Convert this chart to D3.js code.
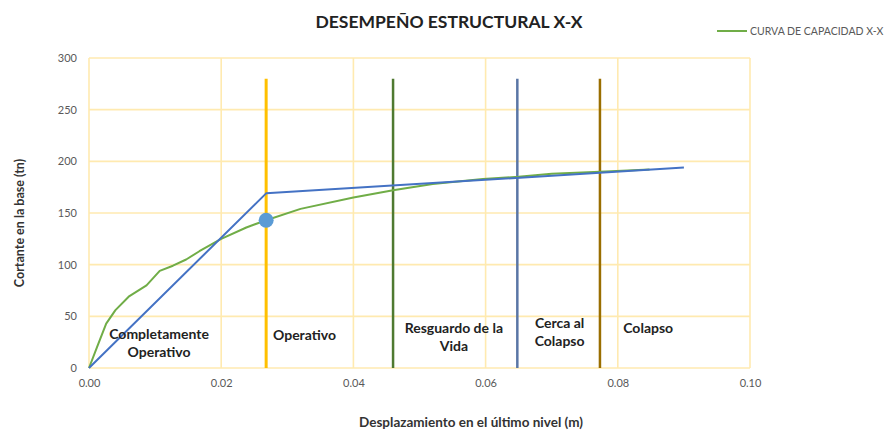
<!DOCTYPE html>
<html>
<head>
<meta charset="utf-8">
<script src="https://cdn.jsdelivr.net/npm/d3@7"></script>
<style>
  html, body { margin: 0; padding: 0; background: #fff; }
  svg { display: block; font-family: Lato, "Open Sans", sans-serif; }
</style>
</head>
<body>
<svg id="chart" width="895" height="430"></svg>
<script>
// Capacity curve (displacement m, base shear tn)
const capDisp  = [0, 0.0012, 0.0026, 0.004, 0.006, 0.0087, 0.0097, 0.0107, 0.0127, 0.0147, 0.0167, 0.020, 0.0238, 0.0268, 0.032, 0.040, 0.046, 0.052, 0.0596, 0.065, 0.070, 0.0773, 0.0848];
const capShear = [0, 20, 43, 56, 69, 80, 87, 94, 99, 105, 113, 125, 136, 143, 154, 165, 172, 178, 183, 185, 188, 190, 192];

// Bilinear idealisation
const biDisp  = [0, 0.0268, 0.090];
const biShear = [0, 169, 194];

// Performance point
const perfDisp = 0.0268, perfShear = 143;

// Performance level limits
const limitNames = ["Operativo", "Resguardo", "Cerca", "Colapso"];
const limitDisp  = [0.0268, 0.0460, 0.0648, 0.0773];
const limitTop   = 280;
const limitColors = ["#FFC000", "#4F7A31", "#5A76A6", "#9A6E00"];
const limitWidths = [3, 2.5, 2.5, 2.5];

// Performance zone labels (lines of text, anchor displacement, shear)
const zoneLabels = [
  { lines: ["Completamente", "Operativo"], x: 0.0106, y: 28 },
  { lines: ["Operativo"], x: 0.0326, y: 27 },
  { lines: ["Resguardo de la", "Vida"], x: 0.0552, y: 34 },
  { lines: ["Cerca al", "Colapso"], x: 0.0712, y: 39 },
  { lines: ["Colapso"], x: 0.0846, y: 34 }
];

const xTicks = [0, 0.02, 0.04, 0.06, 0.08, 0.10];
const yTicks = [0, 50, 100, 150, 200, 250, 300];

const svg = d3.select("#chart");
const m = { left: 89, right: 750, top: 58, bottom: 368 };

const x = d3.scaleLinear().domain([0, 0.10]).range([m.left, m.right]);
const y = d3.scaleLinear().domain([0, 300]).range([m.bottom, m.top]);

const gridColor = "#FFEAB0";

// Gridlines
svg.append("g").selectAll("line.h").data(yTicks).join("line")
  .attr("x1", m.left).attr("x2", m.right)
  .attr("y1", d => y(d)).attr("y2", d => y(d))
  .attr("stroke", gridColor).attr("stroke-width", 1.6);
svg.append("g").selectAll("line.v").data(xTicks).join("line")
  .attr("x1", d => x(d)).attr("x2", d => x(d))
  .attr("y1", m.top).attr("y2", m.bottom)
  .attr("stroke", gridColor).attr("stroke-width", 1.6);

// Axes (labels only)
const xAxis = svg.append("g").attr("transform", `translate(0,${m.bottom})`)
  .call(d3.axisBottom(x).tickValues(xTicks).tickFormat(d3.format(".2f")).tickSize(0).tickPadding(11));
const yAxis = svg.append("g").attr("transform", `translate(${m.left},0)`)
  .call(d3.axisLeft(y).tickValues(yTicks).tickSize(0).tickPadding(12));
[xAxis, yAxis].forEach(a => {
  a.select(".domain").remove();
  a.selectAll("text").attr("fill", "#595959").style("font-size", "11px")
    .style("font-family", "Lato, sans-serif");
});

// Level limit lines
svg.append("g").selectAll("line").data(limitDisp).join("line")
  .attr("x1", d => x(d)).attr("x2", d => x(d))
  .attr("y1", y(0)).attr("y2", y(limitTop))
  .attr("stroke", (d, i) => limitColors[i])
  .attr("stroke-width", (d, i) => limitWidths[i]);

// Capacity curve
const capLine = d3.line().x(d => x(d[0])).y(d => y(d[1]));
svg.append("path")
  .datum(capDisp.map((d, i) => [d, capShear[i]]))
  .attr("d", capLine).attr("fill", "none")
  .attr("stroke", "#70AD47").attr("stroke-width", 2).attr("stroke-linejoin", "round");

// Bilinear
svg.append("path")
  .datum(biDisp.map((d, i) => [d, biShear[i]]))
  .attr("d", capLine).attr("fill", "none")
  .attr("stroke", "#4472C4").attr("stroke-width", 2).attr("stroke-linejoin", "round");

// Performance point
svg.append("circle")
  .attr("cx", x(perfDisp)).attr("cy", y(perfShear)).attr("r", 7.5)
  .attr("fill", "#5B9BD5");

// Zone labels
const zl = svg.append("g").attr("fill", "#222").style("font-size", "14px").style("font-weight", "700");
zoneLabels.forEach(z => {
  const t = zl.append("text").attr("text-anchor", "middle")
    .attr("x", x(z.x)).attr("y", y(z.y));
  z.lines.forEach((ln, i) => {
    t.append("tspan").attr("x", x(z.x)).attr("dy", i === 0 ? 0 : 18).text(ln);
  });
});

// Title
svg.append("text").attr("x", 449).attr("y", 28).attr("text-anchor", "middle")
  .style("font-size", "17.5px").style("font-weight", "700").attr("fill", "#222")
  .text("DESEMPEÑO ESTRUCTURAL X-X");

// Axis titles
svg.append("text").attr("x", 471).attr("y", 427).attr("text-anchor", "middle")
  .style("font-size", "13.5px").style("font-weight", "700").attr("fill", "#333")
  .text("Desplazamiento en el último nivel (m)");
svg.append("text").attr("transform", "translate(24,223) rotate(-90)").attr("text-anchor", "middle")
  .style("font-size", "12.5px").style("font-weight", "700").attr("fill", "#333")
  .text("Cortante en la base (tn)");

// Legend
svg.append("line").attr("x1", 717).attr("x2", 747).attr("y1", 31).attr("y2", 31)
  .attr("stroke", "#70AD47").attr("stroke-width", 2);
svg.append("text").attr("x", 750).attr("y", 35)
  .style("font-size", "10.5px").attr("fill", "#595959")
  .text("CURVA DE CAPACIDAD X-X");
</script>
</body>
</html>
